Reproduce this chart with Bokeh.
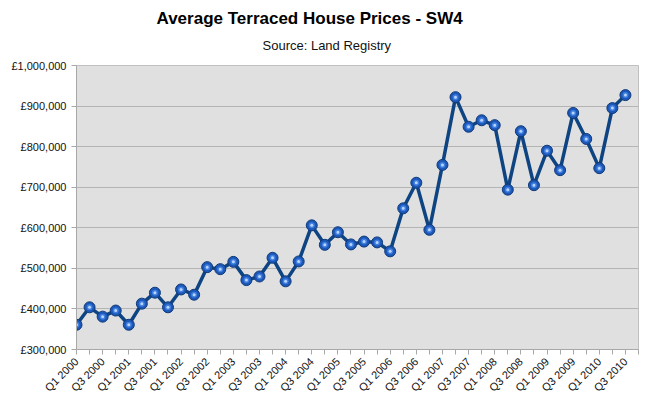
import math
from bokeh.plotting import figure
from bokeh.models import Range1d, FixedTicker, Title, ColumnDataSource
from bokeh.embed import file_html
from bokeh.resources import INLINE

quarters = [
    "Q1 2000", "Q2 2000", "Q3 2000", "Q4 2000",
    "Q1 2001", "Q2 2001", "Q3 2001", "Q4 2001",
    "Q1 2002", "Q2 2002", "Q3 2002", "Q4 2002",
    "Q1 2003", "Q2 2003", "Q3 2003", "Q4 2003",
    "Q1 2004", "Q2 2004", "Q3 2004", "Q4 2004",
    "Q1 2005", "Q2 2005", "Q3 2005", "Q4 2005",
    "Q1 2006", "Q2 2006", "Q3 2006", "Q4 2006",
    "Q1 2007", "Q2 2007", "Q3 2007", "Q4 2007",
    "Q1 2008", "Q2 2008", "Q3 2008", "Q4 2008",
    "Q1 2009", "Q2 2009", "Q3 2009", "Q4 2009",
    "Q1 2010", "Q2 2010", "Q3 2010",
]

prices = [
    361000, 404000, 381000, 396000, 361000, 413000, 440000, 404000,
    448000, 435000, 503000, 498000, 516000, 471000, 480000, 526000,
    468000, 517000, 606000, 558000, 589000, 559000, 566000, 564000,
    542000, 648000, 711000, 595000, 755000, 922000, 849000, 865000,
    853000, 694000, 838000, 705000, 790000, 742000, 883000, 819000,
    747000, 895000, 927000,
]

y_ticks = [300000, 400000, 500000, 600000, 700000, 800000, 900000, 1000000]
y_tick_labels = ["£300,000", "£400,000", "£500,000", "£600,000",
                 "£700,000", "£800,000", "£900,000", "£1,000,000"]

title_text = "Average Terraced House Prices - SW4"
subtitle_text = "Source: Land Registry"

FONT = "Liberation Sans"

xs = list(range(len(quarters)))
source = ColumnDataSource(data=dict(x=xs, y=prices, q=quarters))

p = figure(
    width=650, height=405,
    title=None,
    x_range=Range1d(0, len(quarters)),
    y_range=Range1d(y_ticks[0], y_ticks[-1]),
    output_backend="svg", toolbar_location=None,
    min_border_left=76, min_border_right=12,
    min_border_top=65, min_border_bottom=56,
)

p.background_fill_color = "#e0e0e0"
p.border_fill_color = "white"
p.outline_line_color = "#c0c0c0"

# Titles
sub = Title(text=subtitle_text, align="left", offset=186,
            vertical_align="top", standoff=21,
            text_font=FONT, text_font_size="13px", text_font_style="normal",
            text_color="#111111")
main = Title(text=title_text, align="left", offset=80,
             vertical_align="bottom", standoff=0,
             text_font=FONT, text_font_size="17px", text_font_style="bold",
             text_color="black")
p.add_layout(sub, "above")
p.add_layout(main, "above")

# X axis
tick_positions = list(range(len(quarters) + 1))
p.xaxis.ticker = FixedTicker(ticks=tick_positions)
overrides = {}
for i in tick_positions:
    overrides[i] = quarters[i] if (i < len(quarters) and i % 2 == 0) else ""
p.xaxis.major_label_overrides = overrides
p.xaxis.major_label_orientation = math.pi / 4
p.xaxis.major_label_text_font = FONT
p.xaxis.major_label_text_font_size = "11px"
p.xaxis.major_label_text_color = "#111111"
p.xaxis.axis_line_color = "#a8a8a8"
p.xaxis.major_tick_line_color = "#a8a8a8"
p.xaxis.major_tick_out = 5
p.xaxis.major_tick_in = 0
p.xaxis.minor_tick_line_color = None
p.xgrid.visible = False

# Y axis
p.yaxis.ticker = FixedTicker(ticks=y_ticks)
p.yaxis.major_label_overrides = dict(zip(y_ticks, y_tick_labels))
p.yaxis.major_label_text_font = FONT
p.yaxis.major_label_text_font_size = "11px"
p.yaxis.major_label_text_color = "#111111"
p.yaxis.axis_line_color = "#a8a8a8"
p.yaxis.major_tick_line_color = "#a8a8a8"
p.yaxis.major_tick_out = 5
p.yaxis.major_tick_in = 0
p.yaxis.minor_tick_line_color = None
p.ygrid.grid_line_color = "#b4b4b4"
p.ygrid.grid_line_width = 1

# Series
p.line("x", "y", source=source, line_width=3.5, line_color="#0f4482")
p.scatter("x", "y", source=source, size=11, fill_color="#1d58b8",
          line_color="#0f3a78", line_width=1)
p.scatter("x", "y", source=source, size=6, fill_color="#3f7fe0",
          line_color=None)
p.scatter("x", "y", source=source, size=3, fill_color="#b8d4ff",
          line_color=None)

open("out.html", "w").write(file_html(p, INLINE))
